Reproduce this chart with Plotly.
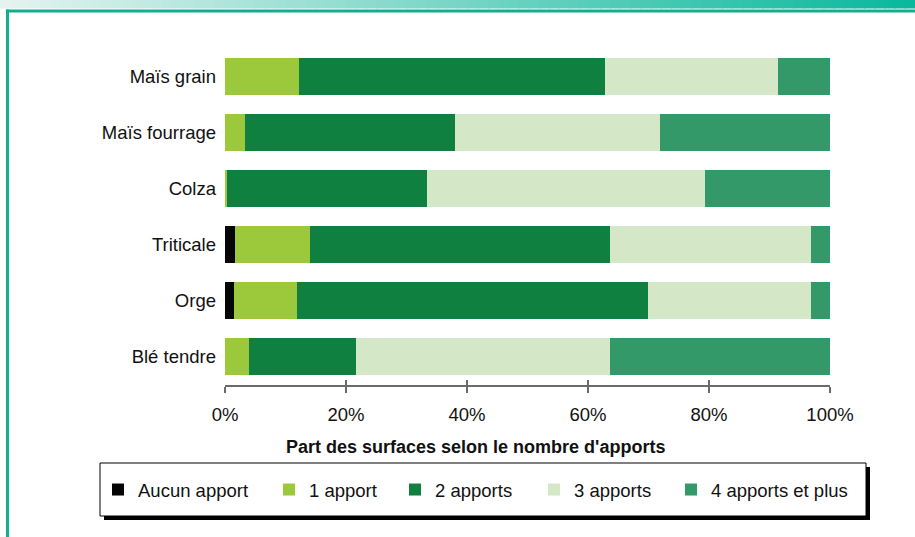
import plotly.graph_objects as go

categories = ["Maïs grain", "Maïs fourrage", "Colza", "Triticale", "Orge", "Blé tendre"]
series_names = ["Aucun apport", "1 apport", "2 apports", "3 apports", "4 apports et plus"]
aucun_apport = [0, 0, 0, 1.7, 1.5, 0]
un_apport = [12.2, 3.3, 0.3, 12.4, 10.4, 4.0]
deux_apports = [50.6, 34.7, 33.1, 49.6, 58.0, 17.7]
trois_apports = [28.6, 33.9, 45.9, 33.2, 26.9, 42.0]
quatre_apports = [8.6, 28.1, 20.7, 3.1, 3.2, 36.3]
tick_vals = [0, 20, 40, 60, 80, 100]
tick_labels = ["0%", "20%", "40%", "60%", "80%", "100%"]
x_title = "Part des surfaces selon le nombre d'apports"

colors = ["#050505", "#9cc93b", "#0f8040", "#d4e8c8", "#339968"]
series_values = [aucun_apport, un_apport, deux_apports, trois_apports, quatre_apports]

W, H = 915, 537
L, R, T, B = 225, 830, 48, 385  # plot area in pixels


def px(x):
    return (x - L) / (R - L)


def py(y):
    return (B - y) / (B - T)


FONT = "Liberation Sans, Arial, sans-serif"
legend_text_x = [139, 310, 436, 575, 712]

fig = go.Figure()
legend_layouts = {}
for i, (name, vals, col) in enumerate(zip(series_names, series_values, colors)):
    lname = "legend" if i == 0 else f"legend{i+1}"
    fig.add_trace(go.Bar(
        y=categories, x=vals, name=name, orientation="h",
        marker=dict(color=col, line=dict(width=0)),
        legend=lname, hoverinfo="name+x",
    ))
    legend_layouts[lname] = dict(
        x=px(legend_text_x[i] - 41), xanchor="left",
        y=py(490), yanchor="middle",
        orientation="h", bgcolor="rgba(0,0,0,0)", borderwidth=0,
        font=dict(family=FONT, size=18.5, color="#111111"),
    )

# empty helper trace for overlay axis (inner tick half)
fig.add_trace(go.Scatter(x=[None], y=[None], xaxis="x2", showlegend=False, hoverinfo="skip"))

shapes = []
# gradient band at top
n = 90
c0 = (228, 243, 240)
c1 = (10, 184, 157)
for k in range(n):
    t = k / (n - 1)
    c = tuple(round(c0[j] + (c1[j] - c0[j]) * t) for j in range(3))
    shapes.append(dict(type="rect", xref="paper", yref="paper",
                       x0=px(k * W / n), x1=px((k + 1) * W / n + 1), y0=py(8.5), y1=py(0),
                       fillcolor="rgb(%d,%d,%d)" % c, line=dict(width=0), layer="below"))
teal = "#13ad90"
shapes.append(dict(type="rect", xref="paper", yref="paper", x0=px(6), x1=px(W + 2),
                   y0=py(12.5), y1=py(9.5), fillcolor=teal, line=dict(width=0), layer="below"))
shapes.append(dict(type="rect", xref="paper", yref="paper", x0=px(6), x1=px(9),
                   y0=py(H + 2), y1=py(9.5), fillcolor=teal, line=dict(width=0), layer="below"))
# legend box with shadow
shapes.append(dict(type="rect", xref="paper", yref="paper", x0=px(104), x1=px(870),
                   y0=py(520), y1=py(467), fillcolor="#000000", line=dict(width=0)))
shapes.append(dict(type="rect", xref="paper", yref="paper", x0=px(100), x1=px(866),
                   y0=py(516), y1=py(463), fillcolor="#ffffff", line=dict(width=1, color="#000000")))

fig.update_layout(
    width=W, height=H, autosize=False,
    margin=dict(l=L, r=W - R, t=T, b=H - B, pad=0),
    paper_bgcolor="white", plot_bgcolor="white",
    barmode="stack", bargap=0.34,
    showlegend=True,
    font=dict(family=FONT, size=18, color="#111111"),
    xaxis=dict(range=[0, 100], tickvals=tick_vals, ticktext=tick_labels,
               ticks="outside", ticklen=6, tickwidth=1.5, tickcolor="#6a6a6a",
               showline=True, linecolor="#6a6a6a", linewidth=1.5,
               showgrid=False, zeroline=False, ticklabelstandoff=6,
               tickfont=dict(family=FONT, size=18.5, color="#111111"), fixedrange=True),
    xaxis2=dict(range=[0, 100], overlaying="x", anchor="y", side="bottom",
                tickvals=tick_vals, ticks="inside", ticklen=5, tickwidth=1.5,
                tickcolor="#6a6a6a", showticklabels=False, showline=False,
                showgrid=False, zeroline=False, fixedrange=True),
    yaxis=dict(type="category", categoryorder="array", categoryarray=categories,
               range=[5.5, -0.5], showline=False, ticks="", showgrid=False,
               zeroline=False, ticklabelstandoff=8,
               tickfont=dict(family=FONT, size=18.5, color="#111111"), fixedrange=True),
    shapes=shapes,
    annotations=[dict(text="<b>" + x_title + "</b>", xref="paper", yref="paper",
                      x=px(475), y=py(447), xanchor="center", yanchor="middle",
                      showarrow=False, font=dict(family=FONT, size=18, color="#111111"))],
    **legend_layouts,
)

fig.write_html("out.html", config={"displayModeBar": False},
               post_script="document.body.style.margin='0';")
